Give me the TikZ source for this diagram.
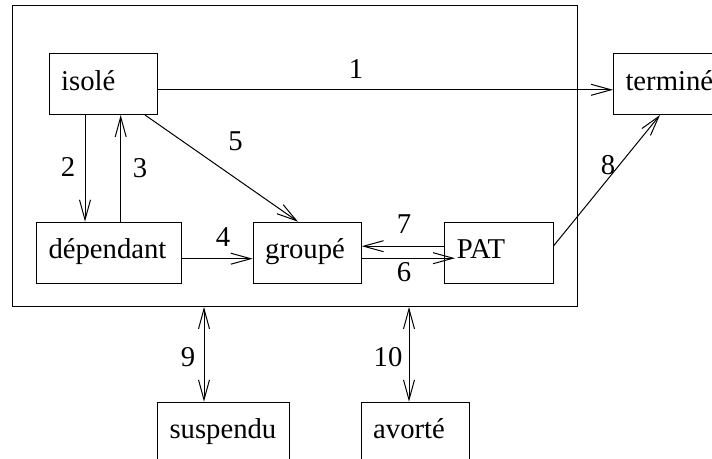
\documentclass[tikz,border=0pt]{standalone}
\usepackage{fontspec}
\setmainfont{Liberation Serif}
\usetikzlibrary{arrows.meta,calc}
\begin{document}
\begin{tikzpicture}[x=1pt,y=-1pt,
  every node/.style={font=\fontsize{28.7}{34}\selectfont},
  box/.style={draw, rectangle, line width=1pt, minimum height=61pt, inner xsep=12pt, inner ysep=0pt,
    text height=19.5pt, text depth=7.5pt, align=left, anchor=north west},
  lbl/.style={inner sep=0pt, anchor=center},
  arr/.style={line width=1pt, -{Straight Barb[length=20pt,width=11pt]}},
  darr/.style={line width=1pt, {Straight Barb[length=20pt,width=11pt]}-{Straight Barb[length=20pt,width=11pt]}}
]
\clip (0,0) rectangle (712,458);
\fill[white] (0,0) rectangle (712,458);

\node[draw, line width=1pt, minimum width=565pt, minimum height=301pt, inner sep=0pt, anchor=north west] (sys) at (12,5) {};

\node[box, text width=84.3pt] (isole) at (48.7,53) {isolé};
\node[box, text width=88pt] (termine) at (613,53) {terminé};
\node[box, text width=121pt] (dep) at (36,221.7) {dépendant};
\node[box, text width=84pt] (groupe) at (252.7,221.7) {groupé};
\node[box, text width=84.4pt] (pat) at (444.3,221.7) {PAT};
\node[box, text width=108pt] (susp) at (157,401.7) {suspendu};
\node[box, text width=84pt] (avorte) at (360.7,401.7) {avorté};

% 1
\draw[arr] ([yshift=-5.8pt]isole.east) -- ([yshift=-5.8pt]termine.west);
% 2
\coordinate (c2) at ([xshift=36.3pt]isole.south west);
\draw[arr] (c2) -- (c2 |- dep.north);
% 3
\coordinate (c3) at ([xshift=84.7pt]dep.north west);
\draw[arr] (c3) -- (c3 |- isole.south);
% 5
\draw[arr] ([xshift=96.3pt]isole.south west) -- ([xshift=45.3pt]groupe.north west);
% 4
\draw[arr] ([yshift=-6pt]dep.east) -- ([yshift=-6pt]groupe.west);
% 7
\draw[arr] ([yshift=6.5pt]pat.west) -- ([yshift=6.5pt]groupe.east);
% 6
\coordinate (c6) at ([yshift=-5.5pt]groupe.east);
\coordinate (e6) at ([xshift=10.7pt]pat.west);
\draw[arr] (c6) -- (c6 -| e6);
% 8
\draw[arr] ([yshift=7pt]pat.east) -- ([xshift=47pt]termine.south west);
% 9
\coordinate (c9) at ([xshift=47pt]susp.north west);
\draw[darr] (c9 |- sys.south) -- (c9);
% 10
\coordinate (c10) at ([xshift=48.3pt]avorte.north west);
\draw[darr] (c10 |- sys.south) -- (c10);

\node[lbl] (l1) at (356,69) {1};
\node[lbl] (l2) at (68,167) {2};
\node[lbl] (l3) at (140,168) {3};
\node[lbl] (l5) at (235.5,141) {5};
\node[lbl] (l4) at (223,237) {4};
\node[lbl] (l7) at (404,224) {7};
\node[lbl] (l6) at (404,272) {6};
\node[lbl] (l8) at (608,165) {8};
\node[lbl] (l9) at (188,357) {9};
\node[lbl] (l10) at (388,357) {10};
\end{tikzpicture}
\end{document}
